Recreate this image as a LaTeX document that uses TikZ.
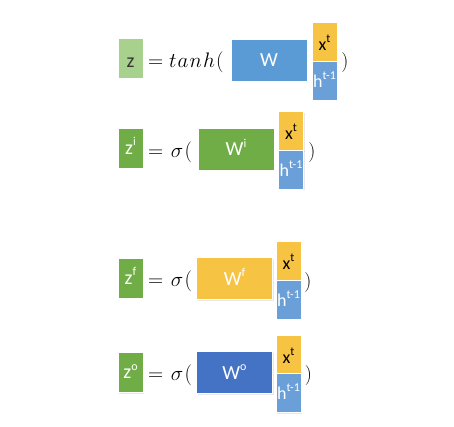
\documentclass[tikz,border=0pt]{standalone}
\usepackage{fix-cm}
\usepackage{fontspec}
\newfontfamily\boxfont{Carlito}
\usetikzlibrary{shadows}
\definecolor{lgreen}{HTML}{A9D18E}
\definecolor{mgreen}{HTML}{70AD47}
\definecolor{wblue}{HTML}{5B9BD5}
\definecolor{hblue}{HTML}{6A9FD8}
\definecolor{xyellow}{HTML}{F7C343}
\definecolor{dblue}{HTML}{4472C4}
\newcommand\sps[1]{\raisebox{0.42em}{\fontsize{12}{13}\selectfont #1}}
\tikzset{
  cell/.style={rectangle, inner sep=0pt, draw=white, line width=0.6pt,
    font=\boxfont\fontsize{20}{22}\selectfont, text depth=0pt,
    drop shadow={opacity=0.18, shadow xshift=1pt, shadow yshift=-1pt}},
  zcell/.style={cell, minimum width=25pt, minimum height=40pt, text=white, fill=mgreen,
    text height=12pt},
  wcell/.style={cell, minimum width=76pt, minimum height=42pt, text=white, text height=13pt},
  xcell/.style={cell, minimum width=25pt, minimum height=39pt, fill=xyellow, text=black,
    font=\boxfont\fontsize{18}{20}\selectfont, text height=17pt},
  hcell/.style={cell, minimum width=25pt, minimum height=39pt, fill=hblue, text=white,
    font=\boxfont\fontsize{18}{20}\selectfont, text height=13pt},
  eq/.style={inner sep=0pt, anchor=base west, font=\fontsize{21}{24}\selectfont},
  par/.style={inner sep=0pt, font=\fontsize{20}{24}\selectfont}
}
\begin{document}
\begin{tikzpicture}[x=1pt,y=-1pt]
\useasboundingbox (0,0) rectangle (454,426);
% row 1
\node[zcell, fill=lgreen, text=black!80, text height=18pt] (z) at (130.5,58) {z};
\node[eq] (e1) at (148,67) {$=t\mkern1mu a\mkern1mu n\mkern1mu h\mkern1mu($};
\node[wcell, fill=wblue] (w) at (269,60) {W};
\node[xcell] (x1) at (324.5,41.5) {x\sps{t}};
\node[hcell] (h1) at (324.5,80.5) {h\sps{t-1}};
\node[par] (p1) at (345,62) {$)$};
% row 2
\node[zcell] (zi) at (130.5,148) {z\sps{i}};
\node[eq] (e2) at (148,157) {$=\mkern1.5mu\sigma\mkern1mu($};
\node[wcell, fill=mgreen] (wi) at (236,149) {W\sps{i}};
\node[xcell] (x2) at (291,131) {x\sps{t}};
\node[hcell] (h2) at (291,169.5) {h\sps{t-1}};
\node[par] (p2) at (312,152) {$)$};
% row 3
\node[zcell] (zf) at (130.5,278) {z\sps{f}};
\node[eq] (e3) at (148,286) {$=\mkern1.5mu\sigma\mkern1mu($};
\node[wcell, fill=xyellow] (wf) at (234.5,278.5) {W\sps{f}};
\node[xcell] (x3) at (288.5,261) {x\sps{t}};
\node[hcell] (h3) at (288.5,299.5) {h\sps{t-1}};
\node[par] (p3) at (308,282) {$)$};
% row 4
\node[zcell] (zo) at (130.5,372.5) {z\sps{o}};
\node[eq] (e4) at (148,380) {$=\mkern1.5mu\sigma\mkern1mu($};
\node[wcell, fill=dblue] (wo) at (234.5,372.5) {W\sps{o}};
\node[xcell] (x4) at (288.5,354.5) {x\sps{t}};
\node[hcell] (h4) at (288.5,393) {h\sps{t-1}};
\node[par] (p4) at (308.5,375.5) {$)$};
\end{tikzpicture}
\end{document}
